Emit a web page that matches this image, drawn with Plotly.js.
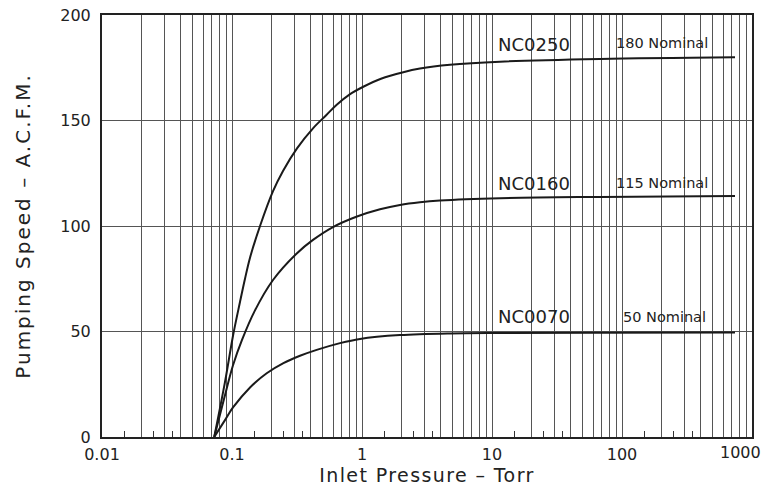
<!DOCTYPE html>
<html>
<head>
<meta charset="utf-8">
<script src="https://cdn.plot.ly/plotly-3.0.1.min.js"></script>
<style>
html,body{margin:0;padding:0;background:#fff;}
#chart{width:765px;height:493px;}
#chart .xtitle{letter-spacing:1.4px;}
#chart .ytitle{letter-spacing:2px;}
</style>
</head>
<body>
<div id="chart"></div>
<script>
// Inlet pressure (Torr) and pumping speed (A.C.F.M.)
const nc0250_x = [0.073, 0.0883, 0.1018, 0.1152, 0.1259, 0.1376, 0.1643, 0.2068, 0.2468, 0.3162, 0.4198, 0.53, 0.6391, 0.8, 1.0233, 1.4, 2.078, 2.79, 4.75, 11.52, 67.6, 740];
const nc0250_y = [0, 26, 48, 64, 75, 85, 100, 116.5, 126.1, 136.8, 146.3, 152.5, 157.5, 162.3, 166, 169.8, 172.9, 174.6, 176.4, 177.9, 179.2, 180];
const nc0160_x = [0.073, 0.0868, 0.1018, 0.1194, 0.1503, 0.2068, 0.3162, 0.4198, 0.5983, 0.9152, 1.376, 1.96, 2.79, 3.98, 11.52, 67.6, 740];
const nc0160_y = [0, 18, 34, 46, 60, 74.4, 87.1, 93.4, 99.5, 104.5, 107.9, 110, 111.3, 112.1, 113.2, 113.8, 114.2];
const nc0070_x = [0.073, 0.0883, 0.1018, 0.1376, 0.1849, 0.2486, 0.3334, 0.4481, 0.6774, 0.9652, 1.96, 4.75, 11.52, 67.6, 740];
const nc0070_y = [0, 8, 14, 23.5, 30.2, 35, 38.5, 41.3, 44.5, 46.5, 48.3, 49.1, 49.3, 49.4, 49.5];

const seriesNames = ["NC0250", "NC0160", "NC0070"];
const nominalLabels = ["180 Nominal", "115 Nominal", "50 Nominal"];
const nameLabelX = [11.3, 11.3, 11.3];
const nameLabelY = [185.8, 120.2, 57];
const nominalLabelX = [91.6, 92, 104];
const nominalLabelY = [186.7, 120.5, 57];

const decades = [0.01, 0.1, 1, 10, 100, 1000];
const decadeLabels = ["0.01", "0.1", "1", "10", "100", "1000"];
const gridMultipliers = [1, 2, 3, 4, 5, 6, 7, 8, 9];
const minorMultipliers = [1.5, 2.5, 3.5];
const yTicks = [0, 50, 100, 150, 200];

const lastIdx = decades.length - 1;
const gridVals = [], gridText = [];
decades.forEach((d, i) => {
  gridMultipliers.forEach(m => {
    if (i === lastIdx && m > 1) return;
    gridVals.push(+(d * m).toPrecision(6));
    // the last decade label is drawn separately so it fits inside the page edge
    gridText.push(m === 1 && i !== lastIdx ? decadeLabels[i] : "");
  });
});
const minorVals = [];
decades.slice(0, -1).forEach(d => minorMultipliers.forEach(m => minorVals.push(+(d * m).toPrecision(6))));

const FONT = "DejaVu Sans, sans-serif";
const lineStyle = {color: "#1a1a1a", width: 2, shape: "spline", smoothing: 1};
const traces = [
  {x: nc0250_x, y: nc0250_y, mode: "lines", line: lineStyle, name: seriesNames[0]},
  {x: nc0160_x, y: nc0160_y, mode: "lines", line: lineStyle, name: seriesNames[1]},
  {x: nc0070_x, y: nc0070_y, mode: "lines", line: lineStyle, name: seriesNames[2]}
];

const annotations = [];
seriesNames.forEach((n, i) => {
  annotations.push({x: Math.log10(nameLabelX[i]), y: nameLabelY[i], xref: "x", yref: "y", text: n,
    showarrow: false, xanchor: "left", yanchor: "middle", xshift: -3, font: {family: FONT, size: 18, color: "#222"}});
  annotations.push({x: Math.log10(nominalLabelX[i]), y: nominalLabelY[i], xref: "x", yref: "y", text: nominalLabels[i],
    showarrow: false, xanchor: "left", yanchor: "middle", xshift: -3, font: {family: FONT, size: 14.5, color: "#222"}});
});
annotations.push({x: Math.log10(decades[lastIdx]), y: 0, xref: "x", yref: "y", text: decadeLabels[lastIdx],
  showarrow: false, xanchor: "right", yanchor: "top", xshift: 11, yshift: -4,
  font: {family: FONT, size: 16, color: "#222"}});

const layout = {
  width: 765, height: 493,
  margin: {l: 102, r: 13, t: 15, b: 56},
  paper_bgcolor: "#fff", plot_bgcolor: "#fff",
  showlegend: false,
  font: {family: FONT, color: "#222"},
  xaxis: {
    type: "log", range: [-2, 3],
    tickmode: "array", tickvals: gridVals, ticktext: gridText,
    ticks: "", tickfont: {family: FONT, size: 16, color: "#222"},
    ticklabelstandoff: 2,
    showgrid: true, gridcolor: "#555", gridwidth: 1,
    showline: true, linecolor: "#222", linewidth: 2, mirror: true,
    zeroline: false, automargin: false,
    minor: {tickmode: "array", tickvals: minorVals, ticks: "inside", ticklen: 6, tickcolor: "#333", tickwidth: 1, showgrid: false},
    title: {text: "Inlet Pressure – Torr", font: {family: FONT, size: 19, color: "#222"}, standoff: 3}
  },
  yaxis: {
    range: [0, 200],
    tickmode: "array", tickvals: yTicks, ticktext: yTicks.map(String),
    ticks: "", tickfont: {family: FONT, size: 16, color: "#222"},
    ticklabelstandoff: 6,
    showgrid: true, gridcolor: "#555", gridwidth: 1,
    showline: true, linecolor: "#222", linewidth: 2, mirror: true,
    zeroline: false, automargin: false,
    title: {text: "Pumping Speed – A.C.F.M.", font: {family: FONT, size: 20, color: "#222"}, standoff: 24}
  },
  annotations: annotations
};

Plotly.newPlot("chart", traces, layout, {staticPlot: true, displayModeBar: false});
</script>
</body>
</html>
